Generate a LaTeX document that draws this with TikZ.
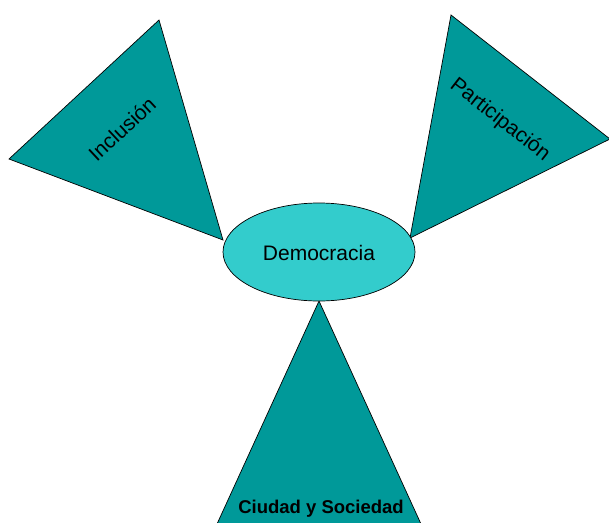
\documentclass[tikz,border=0pt]{standalone}
\usepackage{fontspec}
\setmainfont{Liberation Sans}
\usetikzlibrary{shapes.geometric}
\definecolor{tealdark}{HTML}{009999}
\definecolor{teallight}{HTML}{33CCCC}
\tikzset{
  tri/.style={fill=tealdark, draw=black, line width=0.7pt, line join=miter},
  lbl/.style={font=\fontsize{21}{24}\selectfont, inner sep=0pt},
}
\begin{document}
\begin{tikzpicture}[x=1pt,y=-1pt]
\useasboundingbox (0,0) rectangle (609,522);
\clip (0,0) rectangle (609,522);
% triangles
\draw[tri] (159,20) -- (9,159) -- (223,240) -- cycle;
\draw[tri] (451,15) -- (610,139) -- (410,238) -- cycle;
\draw[tri] (319,301) -- (217,524) -- (421,524) -- cycle;
% centre ellipse
\node[ellipse, draw=black, line width=0.7pt, fill=teallight, minimum width=192pt, minimum height=98pt, inner sep=0pt] (dem) at (319,252) {};
\node[lbl] (demt) at (319,253) {Democracia};
\node[lbl, rotate=43] (inc) at (122,129) {Inclusión};
\node[lbl, rotate=-38] (par) at (500,120) {Participación};
\node[font=\bfseries\fontsize{18.5}{22}\selectfont, inner sep=0pt] (ciu) at (321,509) {Ciudad y Sociedad};
\end{tikzpicture}
\end{document}
